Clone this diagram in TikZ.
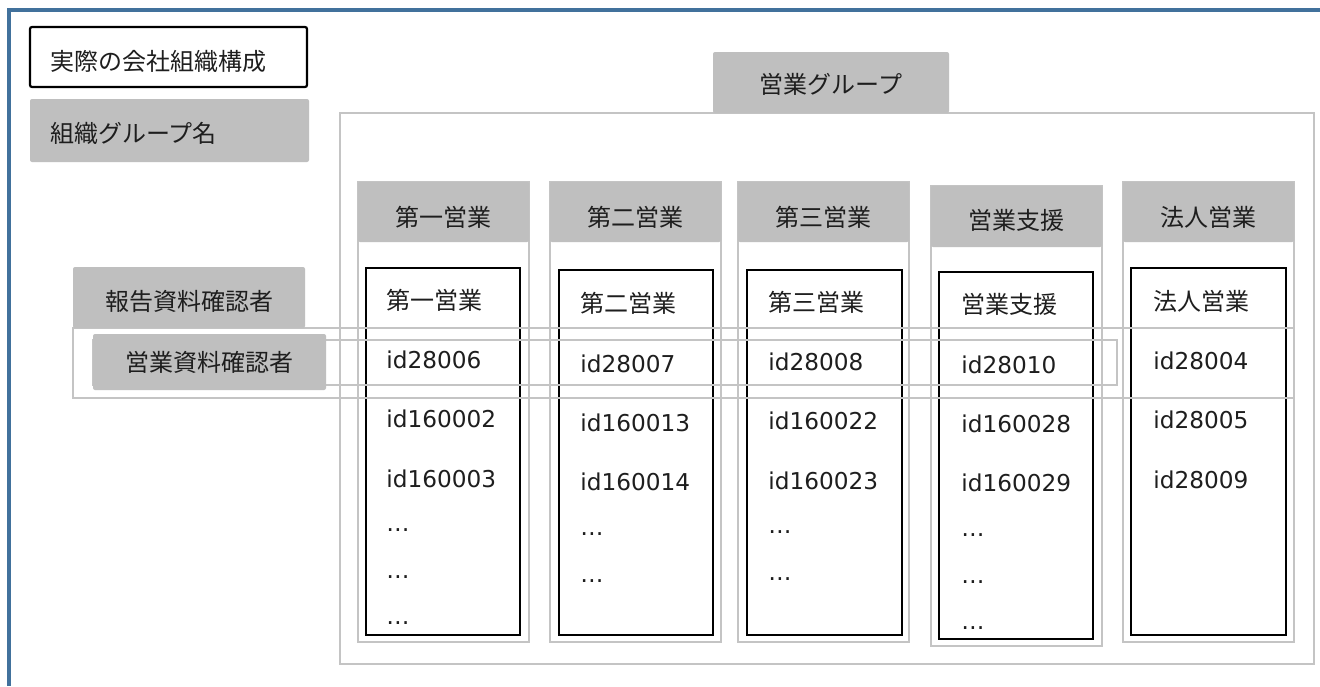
\documentclass[tikz,border=0pt]{standalone}
\usepackage{fontspec}
\setmainfont{DejaVu Sans}
\newfontfamily\jp{Noto Sans CJK JP}
\usetikzlibrary{fit}
\definecolor{frameblue}{HTML}{41719C}
\definecolor{grayfill}{HTML}{BFBFBF}
\definecolor{grayline}{HTML}{C4C4C4}
\definecolor{txtc}{HTML}{1E1E1E}
\begin{document}
\begin{tikzpicture}[x=0.5pt,y=-0.5pt,
  bluefr/.style={draw=frameblue,line width=1.6pt},
  gline/.style={draw=grayline,line width=1pt,inner sep=0pt,outer sep=0pt},
  gfill/.style={fill=grayfill,draw=none,rounded corners=1pt,inner sep=0pt,outer sep=0pt},
  ibox/.style={draw=black,line width=1pt,inner sep=0pt,outer sep=0pt},
  lbox/.style={draw=black,line width=1.1pt,rounded corners=1pt,inner sep=0pt,outer sep=0pt},
  jt/.style={font=\jp\fontsize{12pt}{14pt}\selectfont,text=txtc,inner sep=0pt},
  lt/.style={font=\fontsize{11.6pt}{14pt}\selectfont,text=txtc,inner sep=0pt,anchor=base west},
  jl/.style={jt,anchor=base west}]
\useasboundingbox (0,0) rectangle (1320,686);
\fill[white] (0,0) rectangle (1320,686);
% outer frame
\draw[bluefr] (9,686) -- (9,10) -- (1320,10);
% legend
\node[lbox, fit={(30,27)(307,87)}] (leg1) {};
\node[jl] (leg1t) at (50,70) {実際の会社組織構成};
\node[gfill, fit={(30,99)(309,162)}] (leg2) {};
\node[jl] (leg2t) at (50,142) {組織グループ名};
% group
\node[gline, fit={(340,113)(1314,664)}] (grp) {};
\node[gfill, fit={(713,52)(949,113)}] (tab) {};
\node[jt] (tabt) at ([yshift=-1pt]tab.center) {営業グループ};
% column 1
\node[gline, fit={(358,182)(529,642)}] (c1o) {};
\node[gfill, fit={(358,182)(529,242)}] (c1h) {};
\node[jt] (c1ht) at ([yshift=-2.5pt]c1h.center) {第一営業};
\node[ibox, fit={(366,268)(520,635)}] (c1i) {};
\node[jl] (c1a) at (386,309) {第一営業};
\node[lt] (c1b) at (386,368) {id28006};
\node[lt] (c1c) at (386,427) {id160002};
\node[lt] (c1d) at (386,487) {id160003};
\node[lt] (c1e) at (386,531) {…};
\node[lt] (c1f) at (386,578) {…};
\node[lt] (c1g) at (386,624) {…};
% column 2
\node[gline, fit={(550,182)(721,642)}] (c2o) {};
\node[gfill, fit={(550,182)(721,242)}] (c2h) {};
\node[jt] (c2ht) at ([yshift=-2.5pt]c2h.center) {第二営業};
\node[ibox, fit={(559,270)(713,635)}] (c2i) {};
\node[jl] (c2a) at (580,312) {第二営業};
\node[lt] (c2b) at (580,372) {id28007};
\node[lt] (c2c) at (580,431) {id160013};
\node[lt] (c2d) at (580,490) {id160014};
\node[lt] (c2e) at (580,535) {…};
\node[lt] (c2f) at (580,582) {…};
% column 3
\node[gline, fit={(738,182)(909,642)}] (c3o) {};
\node[gfill, fit={(738,182)(909,242)}] (c3h) {};
\node[jt] (c3ht) at ([yshift=-2.5pt]c3h.center) {第三営業};
\node[ibox, fit={(747,270)(902,635)}] (c3i) {};
\node[jl] (c3a) at (768,311) {第三営業};
\node[lt] (c3b) at (768,370) {id28008};
\node[lt] (c3c) at (768,429) {id160022};
\node[lt] (c3d) at (768,489) {id160023};
\node[lt] (c3e) at (768,533) {…};
\node[lt] (c3f) at (768,580) {…};
% column 4
\node[gline, fit={(931,186)(1102,646)}] (c4o) {};
\node[gfill, fit={(931,186)(1102,247)}] (c4h) {};
\node[jt] (c4ht) at ([yshift=-2pt]c4h.center) {営業支援};
\node[ibox, fit={(939,272)(1093,639)}] (c4i) {};
\node[jl] (c4a) at (961,313) {営業支援};
\node[lt] (c4b) at (961,373) {id28010};
\node[lt] (c4c) at (961,432) {id160028};
\node[lt] (c4d) at (961,491) {id160029};
\node[lt] (c4e) at (961,536) {…};
\node[lt] (c4f) at (961,583) {…};
\node[lt] (c4g) at (961,629) {…};
% column 5
\node[gline, fit={(1123,182)(1294,642)}] (c5o) {};
\node[gfill, fit={(1123,182)(1294,242)}] (c5h) {};
\node[jt] (c5ht) at ([yshift=-2.5pt]c5h.center) {法人営業};
\node[ibox, fit={(1131,268)(1286,635)}] (c5i) {};
\node[jl] (c5a) at (1153,310) {法人営業};
\node[lt] (c5b) at (1153,369) {id28004};
\node[lt] (c5c) at (1153,428) {id28005};
\node[lt] (c5d) at (1153,488) {id28009};
% reviewer bands
\node[gline, fit={(73,328)(1294,398)}] (band1) {};
\node[gline, fit={(93,340)(1117,385)}] (band2) {};
\node[gfill, fit={(73,267)(305,328)}] (rep) {};
\node[jt] (rept) at ([yshift=-2.2pt]rep.center) {報告資料確認者};
\node[gfill, fit={(93,334)(326,390)}] (sal) {};
\node[jt] (salt) at (sal.center) {営業資料確認者};
\end{tikzpicture}
\end{document}
